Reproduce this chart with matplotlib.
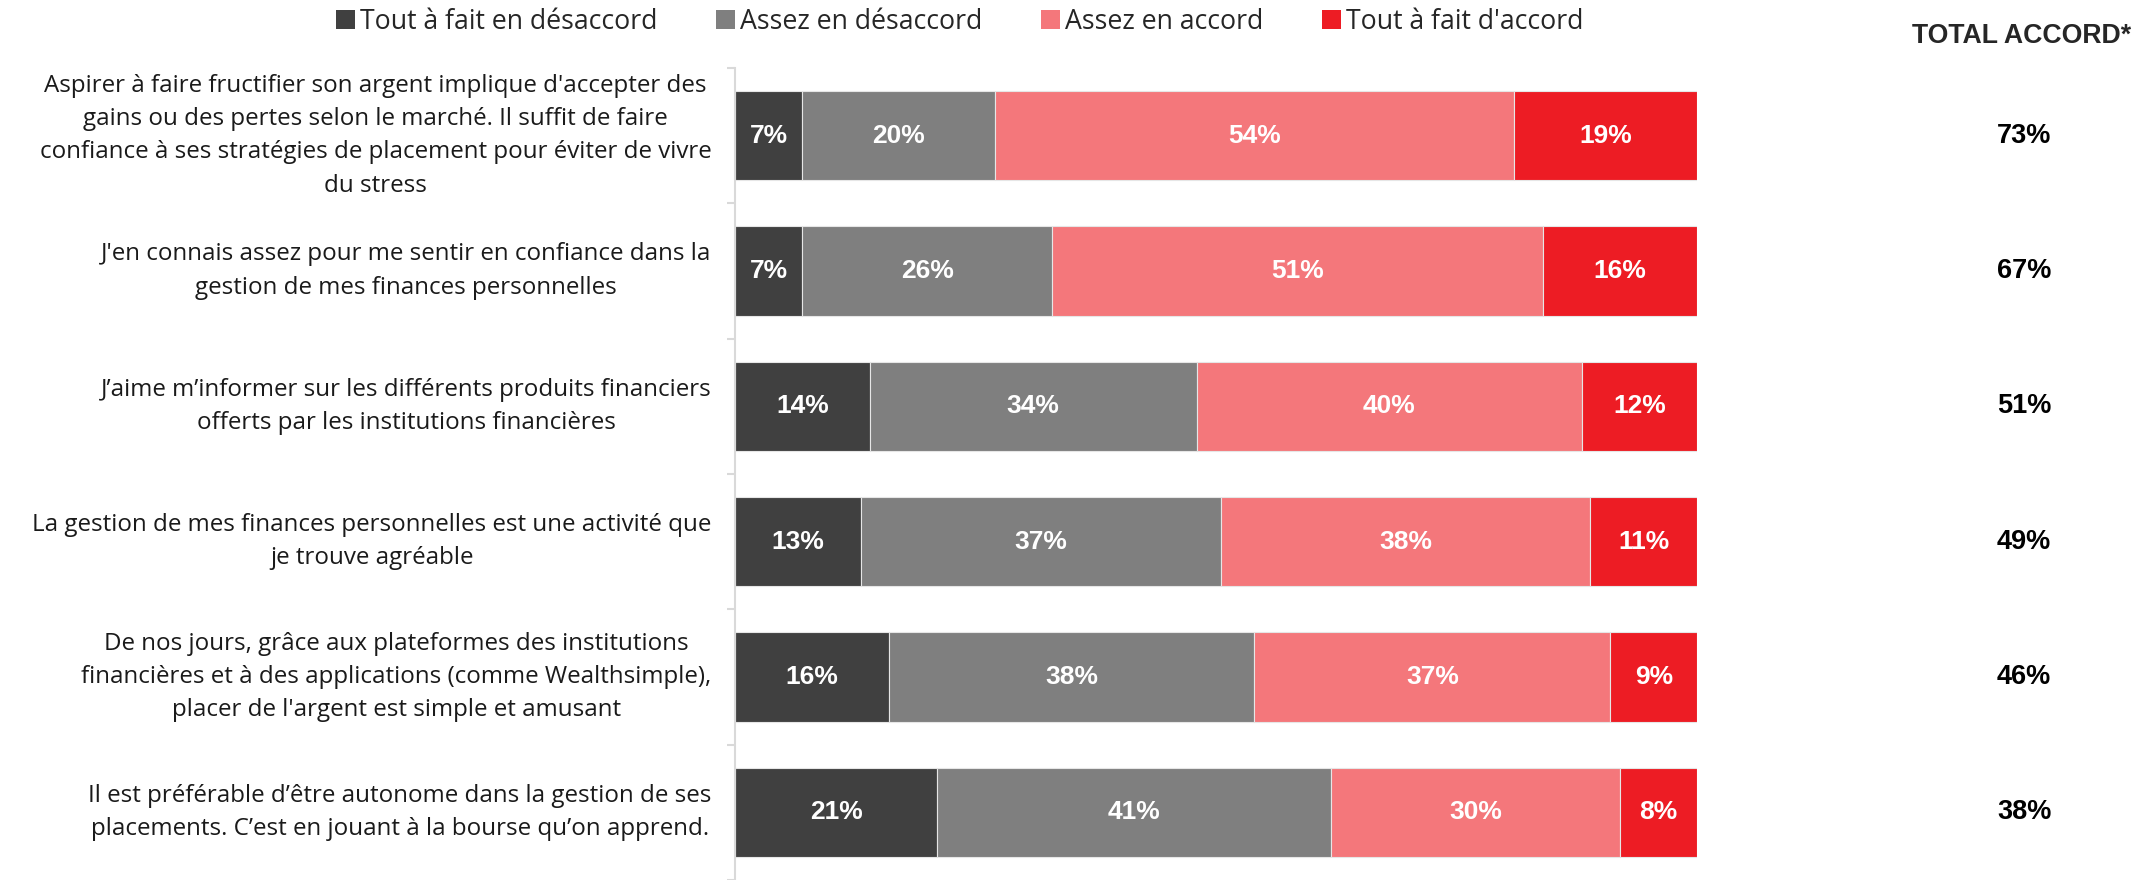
import numpy as np
import matplotlib
matplotlib.use("Agg")
from matplotlib import pyplot as plt
from matplotlib.patches import Patch

# Donnees
enonces = [
    "Aspirer à faire fructifier son argent implique d'accepter des\ngains ou des pertes selon le marché. Il suffit de faire\nconfiance à ses stratégies de placement pour éviter de vivre\ndu stress",
    "J'en connais assez pour me sentir en confiance dans la\ngestion de mes finances personnelles",
    "J’aime m’informer sur les différents produits financiers\nofferts par les institutions financières",
    "La gestion de mes finances personnelles est une activité que\nje trouve agréable",
    "De nos jours, grâce aux plateformes des institutions\nfinancières et à des applications (comme Wealthsimple),\nplacer de l'argent est simple et amusant",
    "Il est préférable d’être autonome dans la gestion de ses\nplacements. C’est en jouant à la bourse qu’on apprend.",
]
categories = ["Tout à fait en désaccord", "Assez en désaccord", "Assez en accord", "Tout à fait d'accord"]
tout_desaccord = [7, 7, 14, 13, 16, 21]
assez_desaccord = [20, 26, 34, 37, 38, 41]
assez_accord = [54, 51, 40, 38, 37, 30]
tout_accord = [19, 16, 12, 11, 9, 8]
total_accord = [73, 67, 51, 49, 46, 38]

couleurs = ["#404040", "#7F7F7F", "#F4777B", "#ED1C24"]
TEXTE = ["Open Sans", "DejaVu Sans"]
GRAS = ["Liberation Sans", "DejaVu Sans"]

series = np.array([tout_desaccord, assez_desaccord, assez_accord, tout_accord], dtype=float)
parts = series / series.sum(axis=0) * 100  # barres empilees a 100 %

W, H = 2156, 880
fig = plt.figure(figsize=(W / 100, H / 100), dpi=100)
ax = fig.add_axes([735 / W, 0, (1697 - 735) / W, 1 - 68 / H])

y = np.arange(len(enonces))
gauche = np.zeros(len(enonces))
for i, (cat, col) in enumerate(zip(categories, couleurs)):
    ax.barh(y, parts[i], left=gauche, height=0.66, color=col, edgecolor="#E6E6E6", linewidth=0.8, label=cat)
    for yy, l, w, v in zip(y, gauche, parts[i], series[i]):
        ax.text(l + w / 2, yy, f"{int(v)}%", ha="center", va="center", color="white",
                fontsize=19, fontweight="bold", family=GRAS)
    gauche += parts[i]

ax.set_xlim(0, 100)
ax.set_ylim(len(enonces) - 0.5, -0.5)
for s in ["top", "right", "bottom"]:
    ax.spines[s].set_visible(False)
ax.spines["left"].set_color("#D9D9D9")
ax.spines["left"].set_linewidth(1.5)
ax.set_xticks([])
ax.set_yticks(np.arange(len(enonces) + 1) - 0.5)
ax.set_yticklabels([])
ax.tick_params(axis="y", length=6, color="#D9D9D9", width=1.5)

# libelles des enonces
for yy, txt in zip(y, enonces):
    ax.text(-2.45, yy, txt, ha="right", va="center", multialignment="center",
            fontsize=17.4, family=TEXTE, color="#1A1A1A", linespacing=1.52)

# colonne total
fig.text(2022 / W, 1 - 36 / H, "TOTAL ACCORD*", ha="center", va="center",
         fontsize=19.2, fontweight="bold", family=GRAS, color="#262626")
for yy, t in zip(y, total_accord):
    ax.text(1.0 + 0.34, yy, f"{t}%", transform=ax.get_yaxis_transform(), ha="center", va="center",
            fontsize=19.5, fontweight="bold", family=GRAS, color="black")

handles = [Patch(facecolor=c, edgecolor="none") for c in couleurs]
fig.legend(handles, categories, loc="center", bbox_to_anchor=(960 / W, 1 - 22 / H), ncol=4,
           frameon=False, handlelength=0.7, handleheight=0.7, handletextpad=0.2, columnspacing=2.2,
           prop={"family": TEXTE, "size": 19.2}, labelcolor="#262626", borderpad=0)

fig.savefig("out.png", dpi=100)
